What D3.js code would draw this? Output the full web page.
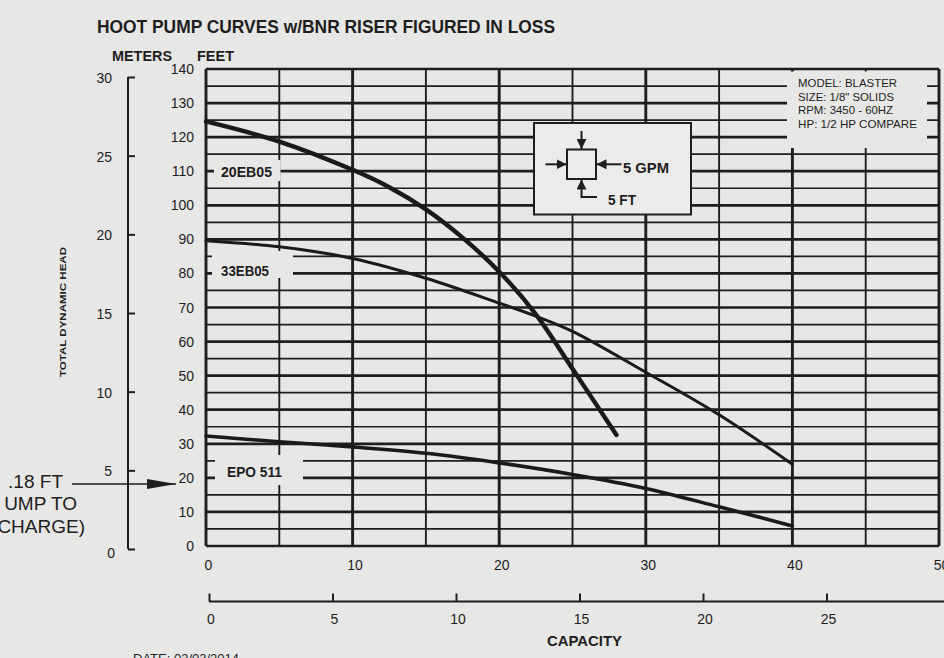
<!DOCTYPE html>
<html><head><meta charset="utf-8">
<script src="https://cdn.jsdelivr.net/npm/d3@7"></script>
<style>
html,body{margin:0;padding:0;background:#e7e7e5;overflow:hidden}
svg{display:block}
text{font-family:"Liberation Sans",Arial,Helvetica,sans-serif;fill:#1e1e1e}
</style></head><body>
<svg id="c" width="944" height="658"></svg>
<script>
// ---- data ----
const feetTicks = [0,10,20,30,40,50,60,70,80,90,100,110,120,130,140];
const meterTicks = [0,5,10,15,20,25,30];
const gpmTicks = [0,10,20,30,40,50];
const capTicks = [0,5,10,15,20,25,30];

const gpm20EB05 = [0,5,10,12.5,15,17.5,20,22.5,25,28];
const ft20EB05  = [124.6,118.7,110.4,105.3,98.8,90.5,80.5,68,52,32.6];

const gpm33EB05 = [0,5,10,15,20,22.6,25,30,35,40];
const ft33EB05  = [89.6,87.8,84.4,78.6,71.3,67.3,63,51,38.5,24];

const gpmEPO511 = [0,5,10,15,20,25,30,35,40];
const ftEPO511  = [32.3,30.6,29.1,27.2,24.4,21,16.9,11.5,5.9];

const titleText = "HOOT PUMP CURVES w/BNR RISER FIGURED IN LOSS";
const infoLines = ["MODEL: BLASTER","SIZE: 1/8\" SOLIDS","RPM: 3450 - 60HZ","HP: 1/2 HP COMPARE"];

// ---- drawing ----
const svg = d3.select("#c");
const ink = "#1e1e1e", paper = "#e7e7e5";
const x = d3.scaleLinear().domain([0,50]).range([206,939]);
const y = d3.scaleLinear().domain([0,140]).range([546,69]);
const yM = d3.scaleLinear().domain([0,30]).range([549,77]);
const x2 = d3.scaleLinear().domain([0,30]).range([209,950]);

// title
svg.append("text").attr("x",97).attr("y",33).attr("font-size",18).attr("font-weight","bold")
  .attr("textLength",458).attr("lengthAdjust","spacingAndGlyphs").text(titleText);
svg.append("text").attr("x",112).attr("y",61).attr("font-size",14).attr("font-weight","bold")
  .attr("textLength",60).attr("lengthAdjust","spacingAndGlyphs").text("METERS");
svg.append("text").attr("x",197).attr("y",61).attr("font-size",14).attr("font-weight","bold")
  .attr("textLength",37).attr("lengthAdjust","spacingAndGlyphs").text("FEET");

// grid
const g = svg.append("g");
const hLines = d3.range(0,141,5);
g.selectAll(".h").data(hLines).join("line")
  .attr("x1",x(0)).attr("x2",x(50)).attr("y1",d=>y(d)).attr("y2",d=>y(d))
  .attr("stroke",ink).attr("stroke-width",d=>d%10===0?2.7:1.7);
const vLines = d3.range(0,51,5);
g.selectAll(".v").data(vLines).join("line")
  .attr("x1",d=>x(d)).attr("x2",d=>x(d)).attr("y1",y(140)).attr("y2",y(0))
  .attr("stroke",ink).attr("stroke-width",d=>(d%10===0)?2.9:1.9);

// label / info masks (paper-coloured boxes breaking the grid)
const masks = [[214,160,280.5,181],[212,251,293,278],[215,455,303,485],[787,71.5,927,148]];
g.selectAll(".m").data(masks).join("rect")
  .attr("x",d=>d[0]).attr("y",d=>d[1]).attr("width",d=>d[2]-d[0]).attr("height",d=>d[3]-d[1])
  .attr("fill",paper);

// feet axis labels
svg.selectAll(".fl").data(feetTicks).join("text")
  .attr("x",194).attr("y",d=>y(d)).attr("dy","0.36em").attr("text-anchor","end")
  .attr("font-size",14).text(d=>d);

// x axis labels
svg.selectAll(".xl").data(gpmTicks).join("text")
  .attr("x",d=>x(d)+2.5).attr("y",565).attr("dy","0.36em").attr("text-anchor","middle")
  .attr("font-size",14).text(d=>d);

// meters axis
const mAxis = d3.axisRight(yM).tickValues(meterTicks).tickSize(7).tickFormat("");
const mg = svg.append("g").attr("transform","translate(128,0)").call(mAxis);
mg.select(".domain").attr("d",`M0,${yM(30)}V${yM(0)}`).attr("stroke",ink).attr("stroke-width",2);
mg.selectAll(".tick line").attr("stroke",ink).attr("stroke-width",2);
svg.selectAll(".ml").data(meterTicks).join("text")
  .attr("x",d=>d===0?115:112).attr("y",d=>yM(d)+(d===0?4:1)).attr("dy","0.36em").attr("text-anchor","end")
  .attr("font-size",14).text(d=>d);

// capacity second axis
const cAxis = d3.axisTop(x2).tickValues(capTicks).tickSize(8).tickFormat("");
const cg = svg.append("g").attr("transform","translate(0,601.5)").call(cAxis);
cg.select(".domain").attr("d",`M${x2(0)},0H950`).attr("stroke",ink).attr("stroke-width",2);
cg.selectAll(".tick line").attr("stroke",ink).attr("stroke-width",2);
svg.selectAll(".cl").data(capTicks).join("text")
  .attr("x",d=>x2(d)+2).attr("y",619).attr("dy","0.36em").attr("text-anchor","middle")
  .attr("font-size",14).text(d=>d);
svg.append("text").attr("x",584.5).attr("y",645.5).attr("text-anchor","middle")
  .attr("font-size",14).attr("font-weight","bold").attr("textLength",75).attr("lengthAdjust","spacingAndGlyphs").text("CAPACITY");
svg.append("text").attr("x",133).attr("y",663).attr("font-size",13).text("DATE: 03/03/2014");

// y title
svg.append("text").attr("transform","translate(66,312) rotate(-90)").attr("text-anchor","middle")
  .attr("font-size",9).attr("font-weight","bold").attr("textLength",130).attr("lengthAdjust","spacingAndGlyphs")
  .text("TOTAL DYNAMIC HEAD");

// curve labels
const lab = [["20EB05",221,177.3,51],["33EB05",221,276,48],["EPO 511",227,477.3,55]];
svg.selectAll(".lb").data(lab).join("text")
  .attr("x",d=>d[1]).attr("y",d=>d[2]).attr("font-size",14).attr("font-weight","bold")
  .attr("textLength",d=>d[3]).attr("lengthAdjust","spacingAndGlyphs").text(d=>d[0]);

// info text
svg.selectAll(".info").data(infoLines).join("text")
  .attr("x",798).attr("y",(d,i)=>86.7+i*13.8).attr("font-size",11)
  .attr("textLength",(d,i)=>[99,96,95,119][i]).attr("lengthAdjust","spacingAndGlyphs").text(d=>d);

// diagram box
const dg = svg.append("g");
dg.append("rect").attr("x",534).attr("y",123).attr("width",157).attr("height",91.5)
  .attr("fill","#ebebe9").attr("stroke",ink).attr("stroke-width",2);
dg.append("rect").attr("x",567).attr("y",149.5).attr("width",29).attr("height",29.5)
  .attr("fill","none").attr("stroke",ink).attr("stroke-width",2);
svg.append("defs").append("marker").attr("id","ah").attr("viewBox","0 0 10 10")
  .attr("refX",10).attr("refY",5).attr("orient","auto")
  .attr("markerUnits","userSpaceOnUse").attr("markerWidth",10).attr("markerHeight",10)
  .append("path").attr("d","M0,0L10,5L0,10z").attr("fill",ink);
const arrows = [[581.5,131,581.5,149],[545.5,164.3,566.5,164.3],[621.5,164.3,596.5,164.3]];
dg.selectAll(".ar").data(arrows).join("line")
  .attr("x1",d=>d[0]).attr("y1",d=>d[1]).attr("x2",d=>d[2]).attr("y2",d=>d[3])
  .attr("stroke",ink).attr("stroke-width",2).attr("marker-end","url(#ah)");
dg.append("path").attr("d","M597,197H581.5V179.5").attr("fill","none").attr("stroke",ink)
  .attr("stroke-width",2).attr("marker-end","url(#ah)");
dg.append("text").attr("x",623).attr("y",172.7).attr("font-size",15).attr("font-weight","bold")
  .attr("textLength",46).attr("lengthAdjust","spacingAndGlyphs").text("5 GPM");
dg.append("text").attr("x",608).attr("y",205).attr("font-size",14).attr("font-weight","bold")
  .attr("textLength",28).attr("lengthAdjust","spacingAndGlyphs").text("5 FT");

// curves
const line = d3.line().x(d=>x(d[0])).y(d=>y(d[1])).curve(d3.curveCatmullRom.alpha(0.5));
const series = [[gpm20EB05,ft20EB05,4.4],[gpm33EB05,ft33EB05,3],[gpmEPO511,ftEPO511,3.6]];
svg.selectAll(".cv").data(series).join("path")
  .attr("d",s=>line(s[0].map((v,i)=>[v,s[1][i]])))
  .attr("fill","none").attr("stroke","#1a1a1a").attr("stroke-width",s=>s[2]).attr("stroke-linecap","round");

// left annotation
const ann = [[".18 FT",63,488],["UMP TO",77,510],["CHARGE)",85,533]];
svg.selectAll(".an").data(ann).join("text")
  .attr("x",d=>d[1]).attr("y",d=>d[2]).attr("text-anchor","end").attr("font-size",19).text(d=>d[0]);
svg.append("line").attr("x1",72).attr("y1",484).attr("x2",176).attr("y2",484)
  .attr("stroke",ink).attr("stroke-width",1.6);
svg.append("path").attr("d","M147,479L176,484L147,489z").attr("fill",ink);
</script>
</body></html>
